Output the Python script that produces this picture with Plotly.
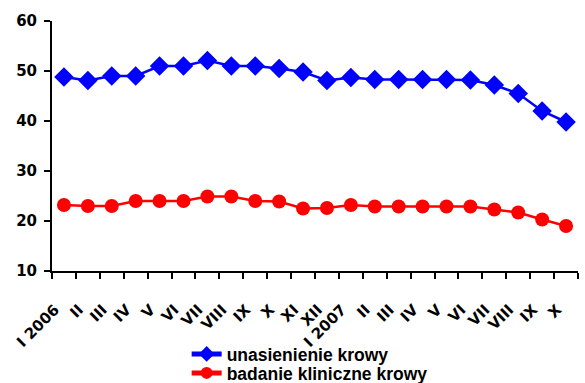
import plotly.graph_objects as go

months = ["I 2006", "II", "III", "IV", "V", "VI", "VII", "VIII", "IX", "X", "XI", "XII",
          "I 2007", "II", "III", "IV", "V", "VI", "VII", "VIII", "IX", "X"]
unasienienie = [48.8, 48.1, 49.0, 49.0, 51.0, 51.0, 52.1, 51.0, 51.0, 50.5, 49.8, 48.1,
                48.7, 48.3, 48.3, 48.3, 48.3, 48.2, 47.2, 45.5, 42.0, 39.8]
badanie = [23.2, 23.0, 23.0, 24.0, 24.0, 24.0, 24.9, 24.9, 24.0, 23.9, 22.5, 22.6,
           23.2, 22.9, 22.9, 22.9, 22.9, 22.9, 22.3, 21.7, 20.3, 19.0]
yticks = [10, 20, 30, 40, 50, 60]

x = list(range(len(months)))
tickfont = dict(family="DejaVu Sans", size=15, color="black", weight="bold")
legfont = dict(family="Liberation Sans, Arial", size=17.5, color="black", weight="bold")

fig = go.Figure()
fig.add_trace(go.Scatter(x=x, y=unasienienie, name="unasienienie krowy", mode="lines+markers",
                         line=dict(color="#0000FF", width=2.5),
                         marker=dict(symbol="diamond", size=15, color="#0000FF"),
                         legend="legend"))
fig.add_trace(go.Scatter(x=x, y=badanie, name="badanie kliniczne krowy", mode="lines+markers",
                         line=dict(color="#FF0000", width=2.5),
                         marker=dict(symbol="circle", size=14, color="#FF0000"),
                         legend="legend2"))

fig.update_layout(
    width=585, height=383,
    margin=dict(l=52, r=7, t=21, b=112, autoexpand=False),
    paper_bgcolor="white", plot_bgcolor="white",
    showlegend=True,
    legend=dict(x=0.256, xanchor="left", y=-0.332, yanchor="middle", font=legfont,
                itemsizing="constant", bgcolor="rgba(0,0,0,0)"),
    legend2=dict(x=0.256, xanchor="left", y=-0.408, yanchor="middle", font=legfont,
                 itemsizing="constant", bgcolor="rgba(0,0,0,0)"),
    xaxis=dict(range=[-0.5, len(months) - 0.5], tickmode="array", tickvals=x, ticktext=months,
               tickangle=-45, ticks="", tickfont=tickfont, showgrid=False, zeroline=False,
               showline=True, linecolor="black", linewidth=2, automargin=False,
               ticklabelstandoff=22, ticklabelshift=-9,
               minor=dict(tickmode="linear", tick0=-0.5, dtick=1, ticks="outside",
                          ticklen=6, tickwidth=2, tickcolor="black", showgrid=False)),
    yaxis=dict(range=[10, 60], tickmode="array", tickvals=yticks, ticks="outside",
               ticklen=6, tickwidth=2, tickcolor="black", tickfont=tickfont,
               showgrid=False, zeroline=False, showline=True, linecolor="black", linewidth=2,
               automargin=False, ticklabelstandoff=4),
)

fig.write_html("out.html", config={"displayModeBar": False},
               post_script="document.body.style.margin='0';")
